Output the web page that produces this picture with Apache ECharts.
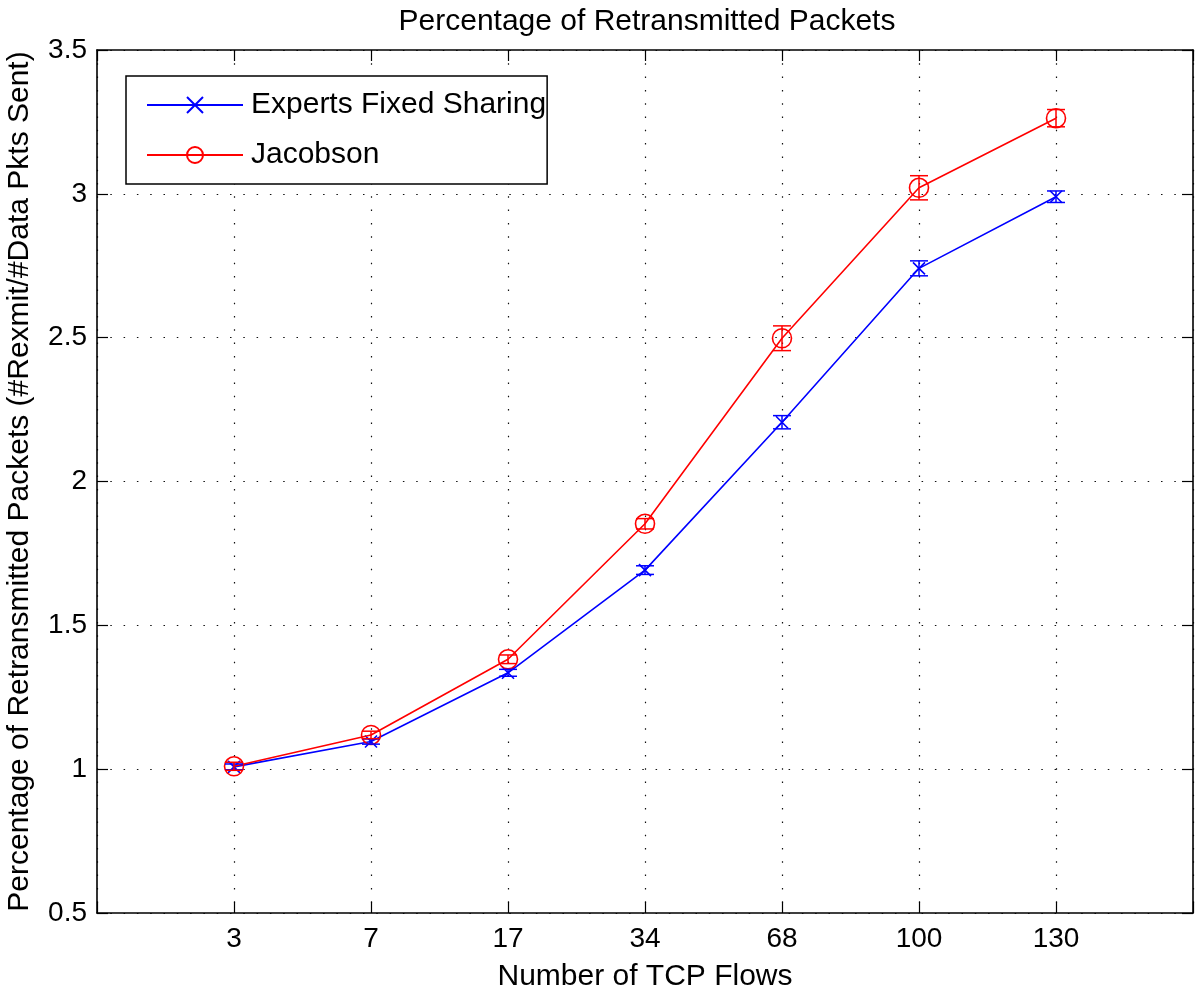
<!DOCTYPE html>
<html>
<head>
<meta charset="utf-8">
<script src="https://cdn.jsdelivr.net/npm/echarts@6/dist/echarts.min.js"></script>
<style>html,body{margin:0;padding:0;background:#fff;}#c{width:1200px;height:990px;}</style>
</head>
<body>
<div id="c"></div>
<script>
const categories = ['3', '7', '17', '34', '68', '100', '130'];
const expertsMean = [1.008, 1.096, 1.335, 1.692, 2.206, 2.741, 2.990];
const expertsErr  = [0.010, 0.009, 0.012, 0.015, 0.023, 0.026, 0.020];
const jacobsonMean = [1.010, 1.119, 1.382, 1.853, 2.498, 3.021, 3.263];
const jacobsonErr  = [0.014, 0.013, 0.015, 0.018, 0.043, 0.042, 0.030];

const FONT = '"Liberation Sans", Arial, Helvetica, sans-serif';
const BLUE = '#0000ff', RED = '#ff0000';

function pts(mean) { return mean.map((v, i) => [i + 1, v]); }
function bars(mean, err) { return mean.map((v, i) => [i + 1, v - err[i], v + err[i]]); }

function errRender(color) {
  return function (params, api) {
    const x = api.value(0);
    const lo = api.coord([x, api.value(1)]);
    const hi = api.coord([x, api.value(2)]);
    const hw = 9;
    const style = { stroke: color, lineWidth: 1.5, fill: null };
    return {
      type: 'group',
      children: [
        { type: 'line', shape: { x1: lo[0], y1: lo[1], x2: hi[0], y2: hi[1] }, style },
        { type: 'line', shape: { x1: lo[0] - hw, y1: lo[1], x2: lo[0] + hw, y2: lo[1] }, style },
        { type: 'line', shape: { x1: hi[0] - hw, y1: hi[1], x2: hi[0] + hw, y2: hi[1] }, style }
      ]
    };
  };
}

const gridLine = { show: true, lineStyle: { color: '#111', type: [1.5, 11.8], width: 1.2 } };
const axLine = { show: true, onZero: false, lineStyle: { color: '#000', width: 1.6 } };
const tick = { show: true, inside: true, length: 11, lineStyle: { color: '#000', width: 1.2 } };

const chart = echarts.init(document.getElementById('c'), null, { renderer: 'canvas' });
chart.setOption({
  backgroundColor: '#fff',
  animation: false,
  title: {
    text: 'Percentage of Retransmitted Packets',
    left: 642, top: 2, textAlign: 'center',
    textStyle: { fontFamily: FONT, fontSize: 30, fontWeight: 'normal', color: '#000' }
  },
  legend: {
    orient: 'vertical',
    left: 126, top: 76,
    padding: [14, 1, 14, 20],
    itemWidth: 96, itemHeight: 20, itemGap: 20,
    borderColor: '#000', borderWidth: 1.5,
    backgroundColor: '#fff',
    selectedMode: false,
    data: ['Experts Fixed Sharing', 'Jacobson'],
    textStyle: { fontFamily: FONT, fontSize: 30, lineHeight: 28, color: '#000', padding: [0, 0, 0, 3] }
  },
  grid: { left: 97, right: 7, top: 50, bottom: 77, containLabel: false, outerBoundsMode: 'none' },
  xAxis: [
    {
      type: 'value', min: 0, max: 8, interval: 1, position: 'bottom',
      name: 'Number of TCP Flows', nameLocation: 'middle', nameGap: 49,
      nameTextStyle: { fontFamily: FONT, fontSize: 30, color: '#000' },
      axisLine: axLine, axisTick: tick, splitLine: gridLine,
      axisLabel: {
        fontFamily: FONT, fontSize: 28, color: '#000', margin: 12,
        formatter: v => (v >= 1 && v <= categories.length) ? categories[v - 1] : ''
      }
    },
    {
      type: 'value', min: 0, max: 8, interval: 1, position: 'top',
      axisLine: axLine, axisTick: tick, splitLine: { show: false }, axisLabel: { show: false }
    }
  ],
  yAxis: [
    {
      type: 'value', min: 0.5, max: 3.5, interval: 0.5, position: 'left',
      name: 'Percentage of Retransmitted Packets (#Rexmit/#Data Pkts Sent)',
      nameLocation: 'middle', nameGap: 62,
      nameTextStyle: { fontFamily: FONT, fontSize: 30, color: '#000' },
      axisLine: axLine, axisTick: tick, splitLine: gridLine,
      axisLabel: { fontFamily: FONT, fontSize: 28, color: '#000', margin: 10 }
    },
    {
      type: 'value', min: 0.5, max: 3.5, interval: 0.5, position: 'right',
      axisLine: axLine, axisTick: tick, splitLine: { show: false }, axisLabel: { show: false }
    }
  ],
  series: [
    {
      name: 'Experts Fixed Sharing', type: 'line', data: pts(expertsMean),
      symbol: 'path://M0,0L10,10M10,0L0,10', symbolSize: 12, showAllSymbol: true,
      lineStyle: { color: BLUE, width: 1.6 },
      itemStyle: { color: 'transparent', borderColor: BLUE, borderWidth: 1.6 },
      z: 3
    },
    {
      name: 'Jacobson', type: 'line', data: pts(jacobsonMean),
      symbol: 'circle', symbolSize: 19, showAllSymbol: true,
      lineStyle: { color: RED, width: 1.6 },
      itemStyle: { color: 'transparent', borderColor: RED, borderWidth: 1.6 },
      z: 4
    },
    {
      type: 'custom', name: 'expErr', data: bars(expertsMean, expertsErr),
      renderItem: errRender(BLUE), encode: { x: 0, y: [1, 2] }, z: 5, silent: true
    },
    {
      type: 'custom', name: 'jacErr', data: bars(jacobsonMean, jacobsonErr),
      renderItem: errRender(RED), encode: { x: 0, y: [1, 2] }, z: 6, silent: true
    }
  ]
});
</script>
</body>
</html>
